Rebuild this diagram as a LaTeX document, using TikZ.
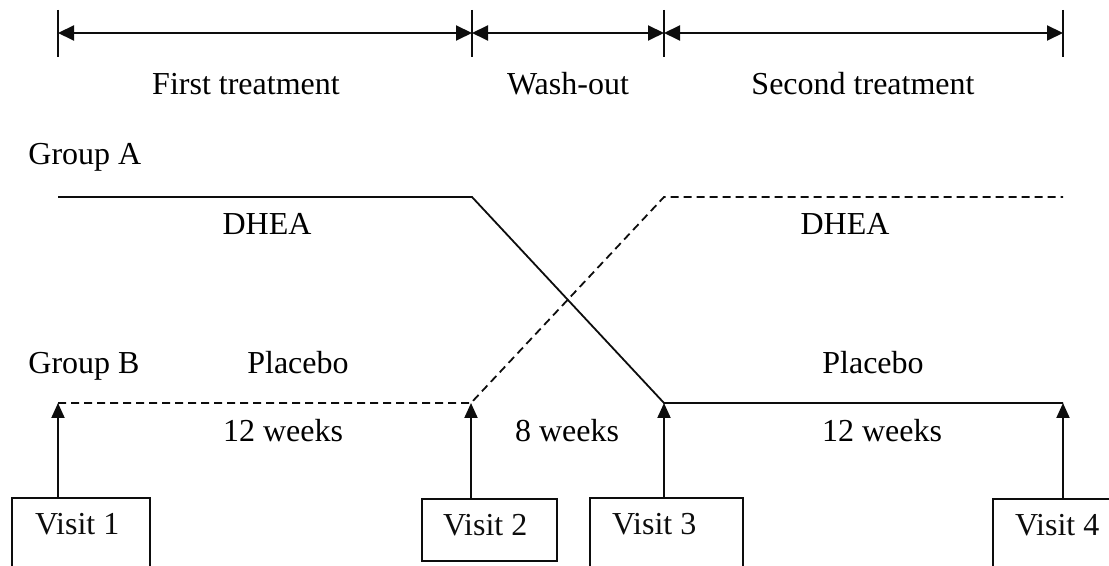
\documentclass[tikz,border=0pt]{standalone}
\usepackage{fontspec}
\setmainfont{Liberation Serif}
\usepackage{tikz}
\usetikzlibrary{arrows.meta, positioning}
\definecolor{inkBlack}{gray}{0.05}

\tikzset{
    phaseArrow/.style={line width=1pt, inkBlack, {Triangle[length=8pt, width=7.5pt]}-{Triangle[length=8pt, width=7.5pt]}},
    phaseTick/.style={line width=1.1pt, inkBlack},
    armLine/.style={line width=0.9pt, inkBlack},
    visitArrow/.style={line width=1pt, inkBlack, -{Triangle[length=7.5pt, width=6.5pt]}},
    visitBox/.style={draw, line width=1pt, inkBlack, anchor=north, align=flush left, inner ysep=0pt, inner xsep=11pt, text height=18.5pt, text depth=60pt},
    lbl/.style={anchor=base, inner sep=0pt, font=\fontsize{16}{19}\selectfont}
}

\begin{document}
\begin{tikzpicture}[x=0.5pt, y=-0.5pt, font=\fontsize{16}{19}\selectfont]
    \useasboundingbox (0,0) rectangle (1109,566);
    \clip (0,0) rectangle (1109,566);

    \foreach \i/\x in {1/58, 2/472, 3/664, 4/1063} {
        \coordinate (t\i) at (\x,33);
        \draw[phaseTick] (\x,10) -- (\x,57);
    }
    \draw[phaseArrow] (t1) -- (t2);
    \draw[phaseArrow] (t2) -- (t3);
    \draw[phaseArrow] (t3) -- (t4);

    \node[lbl] (first) at (246,95) {First treatment};
    \node[lbl] (wash) at (568,95) {Wash-out};
    \node[lbl] (second) at (863,95) {Second treatment};

    \node[lbl, anchor=base west] (grpA) at (28,165) {Group A};
    \node[lbl, anchor=base west] (grpB) at (28,374) {Group B};

    \coordinate (a0) at (58,197);
    \coordinate (a1) at (472,197);
    \coordinate (a2) at (664,403);
    \coordinate (a3) at (1063,403);
    \coordinate (b0) at (58,403);
    \coordinate (b1) at (471,403);
    \coordinate (b2) at (664,197);
    \coordinate (b3) at (1063,197);

    \draw[armLine] (a0) -- (a1) -- (a2) -- (a3);
    \draw[armLine, dash pattern=on 4pt off 2.5pt] (b0) -- (b1) -- (b2) -- (b3);

    \node[lbl] (dheaA) at (267,235) {DHEA};
    \node[lbl] (dheaB) at (845,235) {DHEA};
    \node[lbl] (placeboB) at (298,374) {Placebo};
    \node[lbl] (placeboA) at (873,374) {Placebo};

    \node[lbl] (firstLen) at (283,442) {12 weeks};
    \node[lbl] (washLen) at (567,442) {8 weeks};
    \node[lbl] (secondLen) at (882,442) {12 weeks};

    \node[visitBox, text width=46pt, inner xsep=11.5pt] (v1) at (81,497) {Visit 1};
    \node[visitBox, text width=46.5pt, inner xsep=10.5pt, text depth=12.5pt] (v2) at (489.5,498) {Visit 2};
    \node[visitBox, text width=54.5pt] (v3) at (666.5,497) {Visit 3};
    \node[visitBox, text width=45pt] (v4) at (1060,498) {Visit 4};

    \draw[visitArrow] (v1.north -| b0) -- (b0);
    \draw[visitArrow] (v2.north -| b1) -- (b1);
    \draw[visitArrow] (v3.north -| a2) -- (a2);
    \draw[visitArrow] (v4.north -| a3) -- (a3);
\end{tikzpicture}
\end{document}
